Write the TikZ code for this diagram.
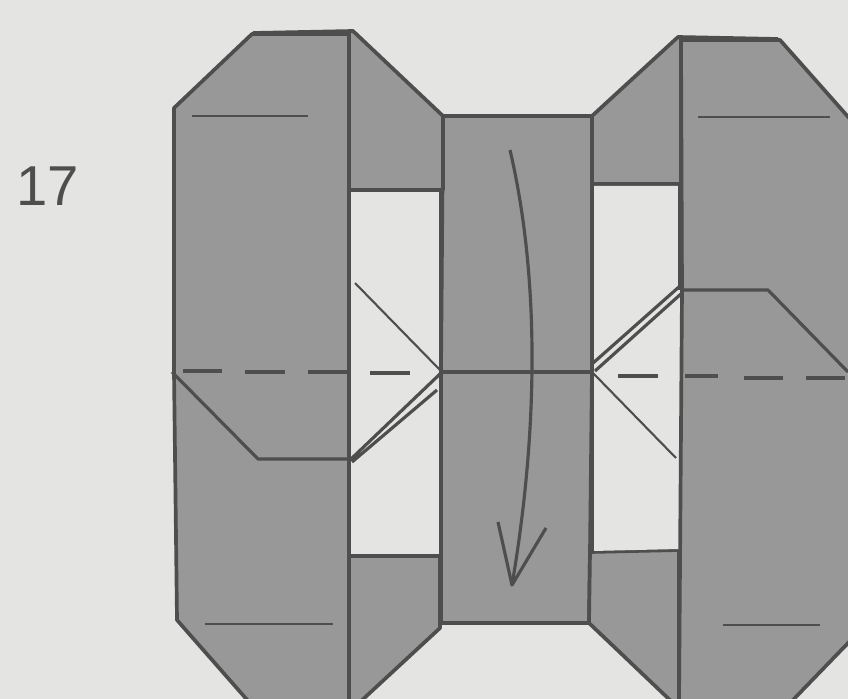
\documentclass[tikz,border=0pt]{standalone}
\usepackage{fontspec}
\setmainfont{Liberation Sans}
\definecolor{papercol}{RGB}{228,228,226}
\definecolor{flapcol}{RGB}{152,152,152}
\definecolor{linecol}{RGB}{78,78,78}
\begin{document}
\begin{tikzpicture}[x=0.02cm,y=-0.02cm,
		edge/.style={draw=linecol,line width=2.1pt,line join=round},
		panel/.style={fill=flapcol,edge},
		thin crease/.style={draw=linecol,line width=1.2pt},
		fold/.style={draw=linecol,line width=1.8pt,line join=round}]
	\useasboundingbox[fill=papercol] (0,0) rectangle (848,699);
	\node[text=linecol] (number) at (48,186) {\fontsize{32}{32}\selectfont 17};
	% middle strip and flaps
	\draw[panel] (443,116)--(592,116)--(592,372)--(590,552)--(589,623)--(441,623)--(441,372)--cycle;
	\draw[panel] (353,31)--(443,116)--(443,190)--(349,190)--(349,31)--cycle;
	\draw[panel] (592,116)--(678,37)--(681,37)--(681,184)--(592,184)--cycle;
	\draw[panel] (349,556)--(440,556)--(440,628)--(360,702)--(349,702)--cycle;
	\draw[panel] (590,552)--(679,550)--(679,702)--(672,702)--(589,623)--cycle;
	% white windows
	\fill[papercol] (351,192)--(440,192)--(440,554)--(351,554)--cycle;
	\fill[papercol] (593,186)--(679,186)--(679,549)--(592,551)--(593,372)--cycle;
	\draw[edge] (441,190)--(441,556) (592,184)--(592,552) (680,184)--(680,290);
	% big side panels
	\draw[panel] (174,108)--(252,34)--(349,34)--(349,702)--(249,702)--(177,620)--(174,372)--cycle;
	\draw[panel] (681,40)--(780,40)--(850,119)--(850,641)--(791,702)--(679,702)--(682,290)--cycle;
	\draw[edge] (253,33)--(353,31) (678,37)--(778,39);
	% folded corners
	\draw[fold] (172,372)--(258,459)--(350,459);
	\draw[fold] (682,290)--(768,290)--(848,372);
	% diagonals in the windows
	\draw[thin crease] (355,283)--(440,370) (592,372)--(676,458);
	\draw[fold] (350,460)--(441,373) (352,462)--(437,390);
	\draw[fold] (592,364)--(680,286) (595,371)--(682,293);
	% short creases
	\draw[thin crease] (192,116)--(308,116) (698,117)--(830,117);
	\draw[thin crease] (205,624)--(333,624) (723,625)--(820,625);
	% dashed line
	\draw[edge] (183,371)--(222,371) (245,372)--(285,372) (308,372)--(348,372) (370,373)--(410,373);
	\draw[edge] (618,376)--(658,376) (685,376)--(718,376) (744,378)--(783,378) (806,378)--(845,378);
	\draw[edge] (440,372)--(592,372);
	% arrow
	\draw[fold] (510,150) .. controls (538,270) and (540,420) .. (512,585);
	\draw[fold] (498,522)--(512,585)--(546,528);
\end{tikzpicture}
\end{document}
